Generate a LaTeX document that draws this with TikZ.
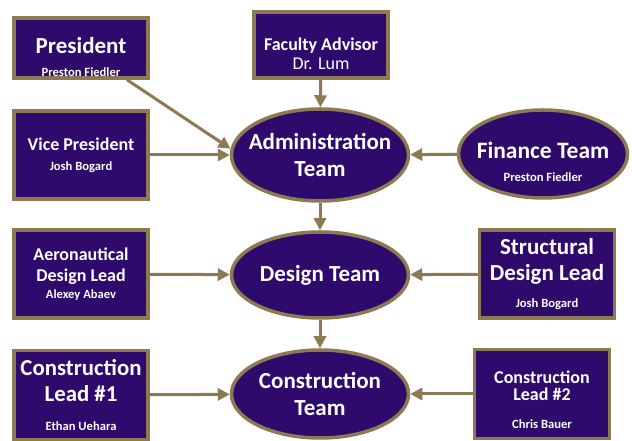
\documentclass[tikz,border=0pt]{standalone}
\usepackage{fontspec}
\setmainfont{Carlito}
\usetikzlibrary{arrows.meta,positioning,shapes.geometric}
\definecolor{clubPurple}{HTML}{2D0A6C}
\definecolor{clubGold}{HTML}{8C7B52}
\newcommand{\who}[1]{{\fontsize{12.6}{14}\selectfont #1}}
\newcommand{\headfont}[1]{\fontsize{#1}{1.15\dimexpr#1pt\relax}\selectfont\bfseries}

\begin{document}
\begin{tikzpicture}[x=1pt,y=1pt,
  rolebox/.style={draw=clubGold,fill=clubPurple,line width=3.5pt,text=white,
                  align=center,inner sep=1pt,minimum width=134pt},
  team/.style={ellipse,draw=clubGold,fill=clubPurple,line width=3.5pt,text=white,
               align=center,inner sep=-10pt},
  link/.style={-{Triangle[length=12pt,width=12pt]},line width=3pt,draw=clubGold}
]
\useasboundingbox (0,0) rectangle (632,441);
% left column
\node[rolebox,minimum height=60pt,font=\headfont{23}] (pres) at (81,393)
  {\rule{0pt}{34pt}President\\[-4pt]\who{Preston Fiedler}};
\node[rolebox,minimum height=88pt,font=\headfont{18}] (vice) at (81,286)
  {Vice President\\[-1pt]\who{Josh Bogard}};
\node[rolebox,minimum height=88pt,font=\headfont{18}] (aero) at (81,167)
  {Aeronautical\\Design Lead\\[-4pt]\who{Alexey Abaev}};
\node[rolebox,minimum height=89pt,font=\headfont{22.8}] (lead1) at (81,46)
  {Construction\\Lead \#1\\[3pt]\who{Ethan Uehara}};
% middle column
\node[rolebox,minimum height=66pt,font=\headfont{18}] (advisor) at (321,396)
  {\rule{0pt}{30pt}Faculty Advisor\\[-2pt]{\mdseries Dr. Lum}};
\node[team,minimum width=177pt,minimum height=92pt,font=\headfont{23}] (admin) at (320,286)
  {Administration\\Team};
\node[team,minimum width=177pt,minimum height=86pt,font=\headfont{23}] (design) at (320,166)
  {Design Team};
\node[team,minimum width=177pt,minimum height=88pt,font=\headfont{23}] (build) at (320,47)
  {Construction\\Team};
% right column
\node[team,minimum width=169pt,minimum height=88pt,font=\headfont{23.5}] (finance) at (543,287)
  {\rule{0pt}{32pt}Finance Team\\[-4pt]\who{Preston Fiedler}};
\node[rolebox,minimum width=135pt,minimum height=88pt,font=\headfont{23}] (struct) at (547,167)
  {Structural\\Design Lead\\[1pt]\who{Josh Bogard}};
\node[rolebox,minimum width=135pt,minimum height=89pt,font=\headfont{18}] (lead2) at (542,47)
  {\rule{0pt}{24pt}Construction\\[-3pt]Lead \#2\\[7pt]\who{Chris Bauer}};
% connectors
\draw[link] ([xshift=46pt]pres.south) -- (admin.176);
\draw[link] (vice) -- (admin);
\draw[link] (advisor) -- (admin);
\draw[link] (finance) -- (admin);
\draw[link] (admin) -- (design);
\draw[link] (aero) -- (design);
\draw[link] (struct) -- (design);
\draw[link] (design) -- (build);
\draw[link] (lead1) -- (build);
\draw[link] (lead2) -- (build);
\end{tikzpicture}
\end{document}
